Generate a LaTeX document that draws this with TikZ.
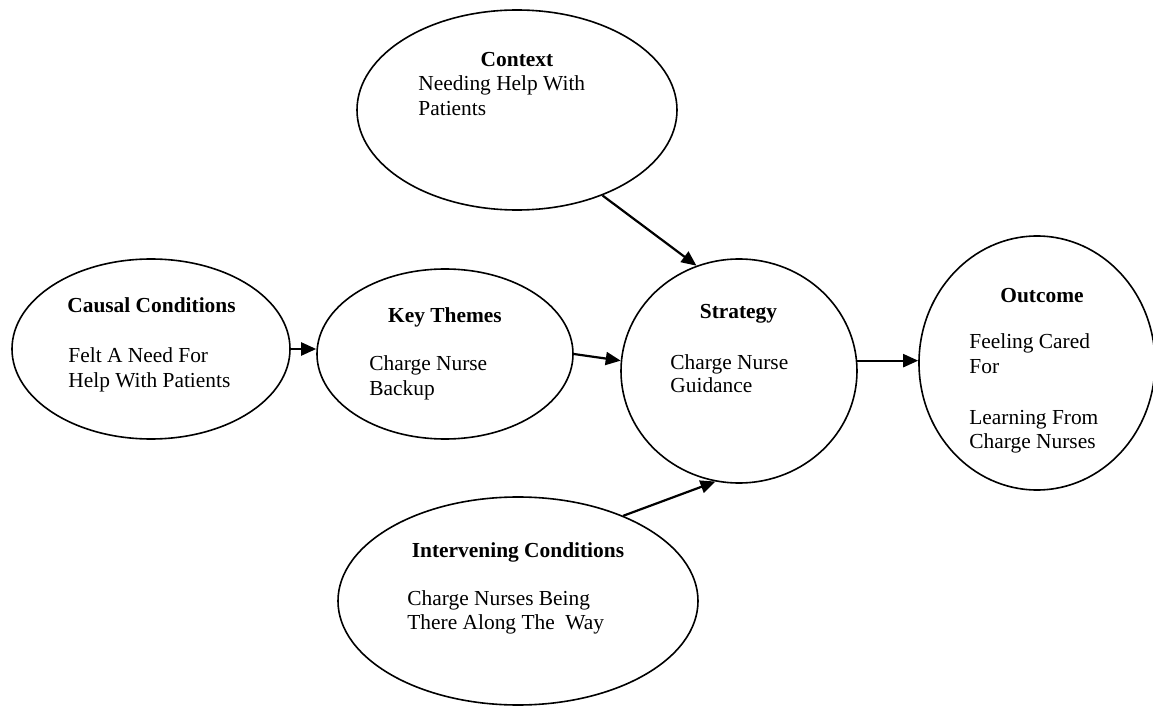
\documentclass[tikz,border=0pt]{standalone}
\usepackage{fontspec}
\setmainfont{Liberation Serif}
\usetikzlibrary{shapes.geometric,arrows.meta}

\begin{document}
\begin{tikzpicture}[x=0.5pt,y=-0.5pt,
  every node/.style={font=\fontsize{10.7}{12.8}\selectfont},
  blob/.style={draw,ellipse,line width=0.8pt,inner sep=0pt},
  head/.style={anchor=base,inner sep=0pt,font=\fontsize{10.7}{12.8}\selectfont\bfseries},
  body/.style={anchor=base west,inner sep=0pt},
  link/.style={-{Triangle[length=7.5pt,width=6.5pt]},line width=1.1pt}]
\useasboundingbox (0,0) rectangle (1153,706);

% the six ellipses
\foreach \n/\x/\y/\w/\h in {cause/151/349/139/90,key/445/354/128/85,strat/739/371/118/112,outc/1037/363/118/127,ctx/517/110/160/100,interv/518/601/180/104}
\node[blob,minimum width=\w pt,minimum height=\h pt] (\n) at (\x,\y) {};

% titles
\foreach \n/\x/\y/\v in {cause/151.5/313/Causal Conditions,key/445/322/Key Themes,strat/738.5/319/Strategy,outc/1042/302/Outcome,ctx/517/67/Context,interv/518/557/Intervening Conditions}
\node[head] (\n-t) at (\x,\y) {\v};

% body lines
\foreach \n/\x/\y/\v in {cause1/68/363/Felt A Need For,cause2/68/387/Help With Patients,
  key1/369/371/Charge Nurse,key2/369/395/Backup,
  strat1/670/369/Charge Nurse,strat2/670/393/Guidance,
  outc1/969/349/Feeling Cared,outc2/969/373/For,outc3/969/424/Learning From,outc4/969/448/Charge Nurses,
  ctx1/418/91/Needing Help With,ctx2/418/116/Patients,
  interv1/407/605/Charge Nurses Being,interv2/407/629/There Along The~ Way}
\node[body] (\n) at (\x,\y) {\v};

\draw[link] (ctx.-45) -- (strat.112);
\draw[link] (cause.east) -- (cause.east -| key.west);
\draw[link] (key.east) -- (strat.175);
\draw[link] (strat.5) -- (strat.5 -| outc.west);
\draw[link] (interv.39) -- (strat.258);

\end{tikzpicture}
\end{document}
